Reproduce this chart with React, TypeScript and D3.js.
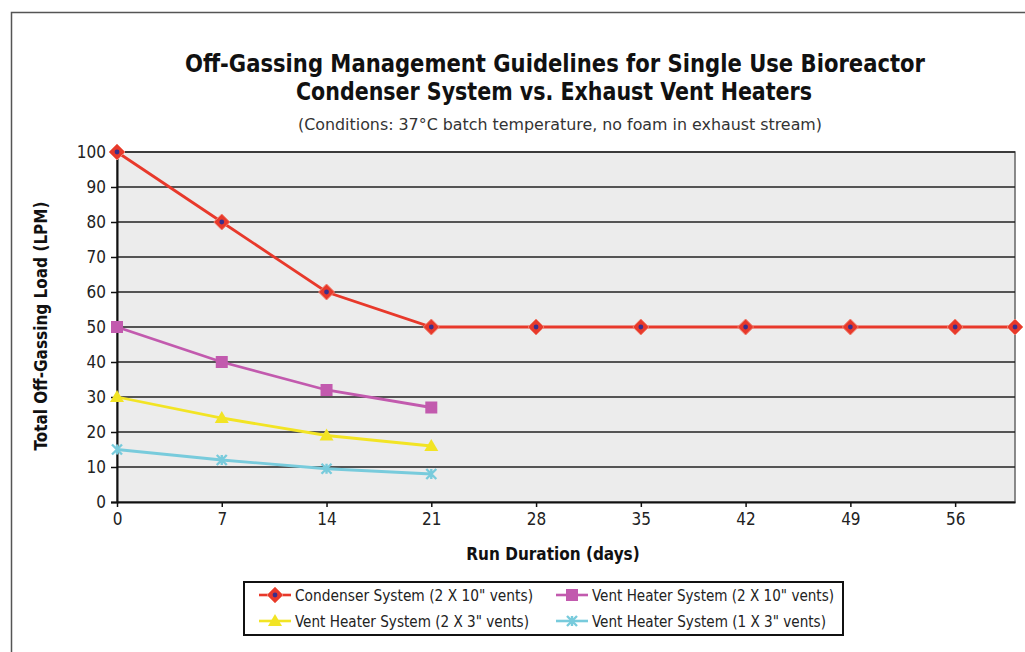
import { useRef, useEffect } from 'react';
import * as d3 from 'd3';

const days = [0, 7, 14, 21, 28, 35, 42, 49, 56, 60];
const condenser = [100, 80, 60, 50, 50, 50, 50, 50, 50, 50];
const heater2x10 = [50, 40, 32, 27];
const heater2x3 = [30, 24, 19, 16];
const heater1x3 = [15, 12, 9.5, 8];
const xTicks = [0, 7, 14, 21, 28, 35, 42, 49, 56];
const yTicks = [0, 10, 20, 30, 40, 50, 60, 70, 80, 90, 100];

const seriesNames = [
  'Condenser System (2 X 10" vents)',
  'Vent Heater System (2 X 10" vents)',
  'Vent Heater System (2 X 3" vents)',
  'Vent Heater System (1 X 3" vents)',
];
const seriesColors = ['#e8392b', '#c25aae', '#f2e424', '#78cbdc'];
const seriesMarkers = ['diamond', 'square', 'triangle', 'star'];
// legend text widths
const legendWidths = [238, 242, 234, 234];

const FONT = '"Liberation Sans Narrow", "DejaVu Sans Condensed", "Roboto", sans-serif';

export default function App() {
  const svgRef = useRef<SVGSVGElement>(null);
  const width = 1025, height = 652;

  useEffect(() => {
    const svg = d3.select(svgRef.current);
    svg.selectAll('*').remove();

    const left = 117, right = 1015, top = 152, bottom = 502;
    const x = d3.scaleLinear().domain([0, 60]).range([left, right]);
    const y = d3.scaleLinear().domain([0, 100]).range([bottom, top]);

    // outer frame
    svg.append('path').attr('d', `M11.5,${height} L11.5,12.5 L${width},12.5`)
      .attr('fill', 'none').attr('stroke', '#555').attr('stroke-width', 1.5);

    // titles
    const title = svg.append('g').attr('font-family', FONT).attr('text-anchor', 'middle').attr('fill', '#111');
    title.append('text').attr('x', 555).attr('y', 72).attr('font-size', 24).attr('font-weight', 'bold')
      .attr('textLength', 740).attr('lengthAdjust', 'spacingAndGlyphs')
      .text('Off-Gassing Management Guidelines for Single Use Bioreactor');
    title.append('text').attr('x', 554).attr('y', 100).attr('font-size', 24).attr('font-weight', 'bold')
      .attr('textLength', 516).attr('lengthAdjust', 'spacingAndGlyphs')
      .text('Condenser System vs. Exhaust Vent Heaters');
    title.append('text').attr('x', 560).attr('y', 130).attr('font-size', 16).attr('fill', '#333')
      .attr('textLength', 524).attr('lengthAdjust', 'spacingAndGlyphs')
      .text('(Conditions: 37°C batch temperature, no foam in exhaust stream)');

    // plot area
    svg.append('rect').attr('x', left).attr('y', top).attr('width', right - left).attr('height', bottom - top)
      .attr('fill', '#ececec').attr('stroke', '#666').attr('stroke-width', 1.5);

    svg.append('g').selectAll('line').data(yTicks.filter(t => t > 0)).join('line')
      .attr('x1', left).attr('x2', right).attr('y1', d => y(d)).attr('y2', d => y(d))
      .attr('stroke', '#222').attr('stroke-width', 1.6);

    // y axis
    const yAxis = svg.append('g').attr('transform', `translate(${left},0)`)
      .call(d3.axisLeft(y).tickValues(yTicks).tickSize(6).tickPadding(5));
    yAxis.select('.domain').attr('stroke', '#111').attr('stroke-width', 2);
    yAxis.selectAll('.tick line').attr('stroke', '#111').attr('stroke-width', 1.5);
    yAxis.selectAll('.tick text').attr('font-family', FONT).attr('font-size', 17).attr('fill', '#222');

    // x axis
    const xAxis = svg.append('g').attr('transform', `translate(0,${bottom})`)
      .call(d3.axisBottom(x).tickValues(xTicks).tickSize(5).tickPadding(6).tickSizeOuter(0));
    xAxis.select('.domain').attr('stroke', '#111').attr('stroke-width', 2);
    xAxis.selectAll('.tick line').attr('stroke', '#111').attr('stroke-width', 1.5);
    xAxis.selectAll('.tick text').attr('font-family', FONT).attr('font-size', 17).attr('fill', '#222');

    // axis titles
    svg.append('text').attr('x', 553).attr('y', 560).attr('text-anchor', 'middle')
      .attr('font-family', FONT).attr('font-size', 17).attr('font-weight', 'bold').attr('fill', '#111')
      .text('Run Duration (days)');
    svg.append('text').attr('transform', 'translate(47,326) rotate(-90)').attr('text-anchor', 'middle')
      .attr('font-family', FONT).attr('font-size', 17).attr('font-weight', 'bold').attr('fill', '#111')
      .text('Total Off-Gassing Load (LPM)');

    const drawMarker = (g: d3.Selection<SVGGElement, unknown, null, undefined>, kind: string, cx: number, cy: number, color: string) => {
      if (kind === 'diamond') {
        g.append('path').attr('d', `M${cx},${cy - 8} L${cx + 8},${cy} L${cx},${cy + 8} L${cx - 8},${cy} Z`)
          .attr('fill', color).attr('stroke', '#f08070').attr('stroke-width', 1);
        g.append('circle').attr('cx', cx).attr('cy', cy).attr('r', 2.4).attr('fill', '#3a2f8c');
      } else if (kind === 'square') {
        g.append('rect').attr('x', cx - 6).attr('y', cy - 6).attr('width', 12).attr('height', 12).attr('fill', color);
      } else if (kind === 'triangle') {
        g.append('path').attr('d', `M${cx},${cy - 7} L${cx + 7},${cy + 5} L${cx - 7},${cy + 5} Z`).attr('fill', color);
      } else {
        g.append('path').attr('d', `M${cx - 5},${cy - 5} L${cx + 5},${cy + 5} M${cx + 5},${cy - 5} L${cx - 5},${cy + 5} M${cx},${cy - 5} L${cx},${cy + 5}`)
          .attr('stroke', color).attr('stroke-width', 2.4);
      }
    };

    const allSeries = [condenser, heater2x10, heater2x3, heater1x3];
    const line = d3.line<[number, number]>().x(d => x(d[0])).y(d => y(d[1]));
    const plot = svg.append('g');
    allSeries.forEach((vals, i) => {
      const pts: [number, number][] = vals.map((v, j) => [days[j], v]);
      plot.append('path').attr('d', line(pts)).attr('fill', 'none')
        .attr('stroke', seriesColors[i]).attr('stroke-width', 2.8);
      pts.forEach(p => drawMarker(plot, seriesMarkers[i], x(p[0]), y(p[1]), seriesColors[i]));
    });

    // legend
    const lg = svg.append('g');
    lg.append('rect').attr('x', 244).attr('y', 582).attr('width', 599).attr('height', 53)
      .attr('fill', '#fff').attr('stroke', '#111').attr('stroke-width', 2);
    const cols = [259, 556];
    const rows = [595, 621];
    seriesNames.forEach((name, i) => {
      const lx = cols[i % 2], ly = rows[Math.floor(i / 2)];
      lg.append('line').attr('x1', lx).attr('x2', lx + 32).attr('y1', ly).attr('y2', ly)
        .attr('stroke', seriesColors[i]).attr('stroke-width', 2.6);
      drawMarker(lg, seriesMarkers[i], lx + 16, ly, seriesColors[i]);
      lg.append('text').attr('x', lx + 36).attr('y', ly + 6).attr('font-family', FONT).attr('font-size', 16)
        .attr('textLength', legendWidths[i]).attr('lengthAdjust', 'spacingAndGlyphs')
        .attr('fill', '#222').text(name);
    });
  }, []);

  return (
    <svg ref={svgRef} width={width} height={height} viewBox={`0 0 ${width} ${height}`}
      style={{ position: 'absolute', left: 0, top: 0, background: '#fff' }} />
  );
}
